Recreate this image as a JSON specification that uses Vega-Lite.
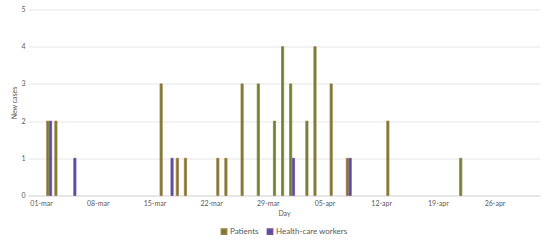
{
  "$schema": "https://vega.github.io/schema/vega-lite/v6.json",
  "width": 512,
  "height": 186,
  "autosize": {"type": "none"},
  "padding": {"left": 28, "right": 10, "top": 9.5, "bottom": 52.5},
  "background": "white",
  "config": {
    "view": {"stroke": null},
    "font": "Lato",
    "axis": {"labelColor": "#595959", "titleColor": "#595959", "labelFontSize": 7, "titleFontSize": 7, "titleFontWeight": "normal", "labelFont": "Lato", "titleFont": "Lato"},
    "legend": {"layout": {"bottom": {"anchor": "middle"}}}
  },
  "data": {
    "values": [
      {"date": "2020-03-02", "series": "Patients", "cases": 2},
      {"date": "2020-03-03", "series": "Patients", "cases": 2},
      {"date": "2020-03-16", "series": "Patients", "cases": 3},
      {"date": "2020-03-18", "series": "Patients", "cases": 1},
      {"date": "2020-03-19", "series": "Patients", "cases": 1},
      {"date": "2020-03-23", "series": "Patients", "cases": 1},
      {"date": "2020-03-24", "series": "Patients", "cases": 1},
      {"date": "2020-03-26", "series": "Patients", "cases": 3},
      {"date": "2020-03-28", "series": "Patients", "cases": 3},
      {"date": "2020-03-30", "series": "Patients", "cases": 2},
      {"date": "2020-03-31", "series": "Patients", "cases": 4},
      {"date": "2020-04-01", "series": "Patients", "cases": 3},
      {"date": "2020-04-03", "series": "Patients", "cases": 2},
      {"date": "2020-04-04", "series": "Patients", "cases": 4},
      {"date": "2020-04-06", "series": "Patients", "cases": 3},
      {"date": "2020-04-08", "series": "Patients", "cases": 1},
      {"date": "2020-04-13", "series": "Patients", "cases": 2},
      {"date": "2020-04-22", "series": "Patients", "cases": 1},
      {"date": "2020-03-02", "series": "Health-care workers", "cases": 2},
      {"date": "2020-03-05", "series": "Health-care workers", "cases": 1},
      {"date": "2020-03-17", "series": "Health-care workers", "cases": 1},
      {"date": "2020-04-01", "series": "Health-care workers", "cases": 1},
      {"date": "2020-04-08", "series": "Health-care workers", "cases": 1}
    ],
    "format": {"parse": {"date": "date:'%Y-%m-%d'"}}
  },
  "encoding": {
    "x": {
      "field": "date",
      "type": "temporal",
      "title": "Day",
      "scale": {"domain": [{"year": 2020, "month": 2, "date": 29}, {"year": 2020, "month": 5, "date": 1}]},
      "axis": {
        "values": [
          {"year": 2020, "month": 3, "date": 1},
          {"year": 2020, "month": 3, "date": 8},
          {"year": 2020, "month": 3, "date": 15},
          {"year": 2020, "month": 3, "date": 22},
          {"year": 2020, "month": 3, "date": 29},
          {"year": 2020, "month": 4, "date": 5},
          {"year": 2020, "month": 4, "date": 12},
          {"year": 2020, "month": 4, "date": 19},
          {"year": 2020, "month": 4, "date": 26}
        ],
        "labelExpr": "lower(timeFormat(datum.value, '%d-%b'))",
        "grid": false,
        "ticks": false,
        "domain": true,
        "domainColor": "#d9d9d9",
        "labelPadding": 4,
        "titlePadding": 3
      }
    },
    "y": {
      "field": "cases",
      "type": "quantitative",
      "title": "New cases",
      "scale": {"domain": [0, 5]},
      "axis": {
        "values": [0, 1, 2, 3, 4, 5],
        "grid": true,
        "gridColor": "#e6e6e6",
        "domain": false,
        "ticks": false,
        "labelPadding": 3,
        "titlePadding": 3
      }
    },
    "fill": {
      "field": "series",
      "type": "nominal",
      "scale": {"domain": ["Patients", "Health-care workers"], "range": ["#6a8230", "#4a50a8"]},
      "legend": {"title": null, "orient": "bottom", "direction": "horizontal", "symbolType": "square", "symbolSize": 28, "labelFontSize": 8, "labelColor": "#595959", "offset": 11, "labelFont": "Lato", "columnPadding": 5, "labelOffset": 2}
    },
    "stroke": {
      "field": "series",
      "type": "nominal",
      "scale": {"domain": ["Patients", "Health-care workers"], "range": ["#a07a45", "#7a4f9a"]},
      "legend": {"title": null, "orient": "bottom", "direction": "horizontal", "symbolType": "square", "symbolSize": 28, "labelFontSize": 8, "labelColor": "#595959", "offset": 11, "labelFont": "Lato", "columnPadding": 5, "labelOffset": 2}
    }
  },
  "layer": [
    {
      "transform": [{"filter": "datum.series === 'Patients'"}],
      "mark": {"type": "bar", "width": 2.2, "strokeWidth": 0.8, "xOffset": -1.4}
    },
    {
      "transform": [{"filter": "datum.series === 'Health-care workers'"}],
      "mark": {"type": "bar", "width": 2.2, "strokeWidth": 0.8, "xOffset": 1.4}
    }
  ]
}
